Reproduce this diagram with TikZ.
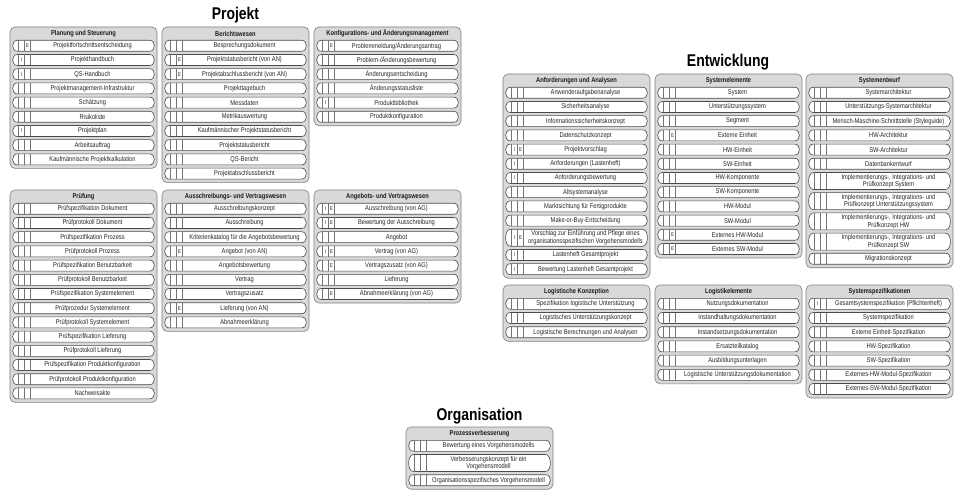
\documentclass[tikz,border=0pt]{standalone}
\usepackage{fontspec}
\setmainfont{Liberation Sans}[FakeStretch=0.82]
\pgfdeclarelayer{bg}
\pgfsetlayers{bg,main}
\tikzset{
  panelbox/.style={fill=black!15, draw=black!50, line width=0.6pt, rounded corners=5pt},
  itembox/.style={fill=white, draw=black!70, line width=0.6pt},
  sepline/.style={draw=black!55, line width=0.4pt},
  itemtext/.style={font=\fontsize{7}{7.6}\selectfont, text=black!85, align=center, inner sep=0pt},
  flagtext/.style={font=\fontsize{5.5}{6}\selectfont, text=black!85, inner sep=0pt},
  headtext/.style={font=\fontsize{7}{8}\selectfont\bfseries, text=black!90, inner sep=0pt},
  titletext/.style={font=\fontsize{17}{20}\selectfont\bfseries, inner sep=0pt, anchor=base},
}
\newcommand\DrawPanel[5]{%
  \pgfmathsetmacro\pL{#2}%
  \pgfmathsetmacro\pT{#3}%
  \pgfmathsetmacro\tmpv{#3+13.3}\xdef\cury{\tmpv}%
  \node[headtext] (#1-head) at (\pL+73.5,\pT+6.6) {#4};
  \foreach \vI/\vE/\vT/\vH [count=\n] in {#5} {%
    \pgfmathsetmacro\yT{\cury}%
    \pgfmathsetmacro\yB{\cury+11+6*(\vH-1)}%
    \pgfmathsetmacro\yM{(\yT+\yB)/2}%
    \pgfmathsetmacro\xL{\pL+2.5}%
    \pgfmathsetmacro\xR{\pL+144.5}%
    \pgfmathsetmacro\xM{(\xL+18+\xR)/2}%
    \draw[itembox] (\xL+5,\yT) -- (\xR-5,\yT)
      .. controls (\xR+1.5,\yT) and (\xR+1.5,\yB) .. (\xR-5,\yB)
      -- (\xL+5,\yB)
      .. controls (\xL-1.5,\yB) and (\xL-1.5,\yT) .. (\xL+5,\yT) -- cycle;
    \draw[sepline] (\xL+6,\yT) -- (\xL+6,\yB);
    \draw[sepline] (\xL+12,\yT) -- (\xL+12,\yB);
    \draw[sepline] (\xL+18,\yT) -- (\xL+18,\yB);
    \if\vI-\else\node[flagtext] (#1-\n-i) at (\xL+9,\yM) {\vI};\fi
    \if\vE-\else\node[flagtext] (#1-\n-e) at (\xL+15,\yM) {\vE};\fi
    \node[itemtext] (#1-\n) at (\xM,\yM) {\vT};
    \pgfmathsetmacro\tmpv{\yB+3.2}\xdef\cury{\tmpv}%
  }%
  \pgfmathsetmacro\pB{\cury-3.2+3.5}%
  \begin{pgfonlayer}{bg}
    \draw[panelbox] (\pL,\pT) rectangle (\pL+147,\pB);
  \end{pgfonlayer}
}
\begin{document}
\begin{tikzpicture}[x=1pt,y=-1pt]
\useasboundingbox (0,0) rectangle (956,497);
\begin{pgfonlayer}{bg}
\fill[white] (0,0) rectangle (956,497);
\end{pgfonlayer}

\node[titletext] (t-projekt) at (235.5,20) {Projekt};
\node[titletext] (t-entw) at (728,67) {Entwicklung};
\node[titletext] (t-org) at (479.5,420) {Organisation};

\DrawPanel{pl}{10}{27}{Planung und Steuerung}{
 -/E/Projektfortschrittsentscheidung/1,
 I/-/Projekthandbuch/1,
 I/-/QS-Handbuch/1,
 -/-/Projektmanagement-Infrastruktur/1,
 -/-/Schätzung/1,
 -/-/Risikoliste/1,
 I/-/Projektplan/1,
 -/-/Arbeitsauftrag/1,
 -/-/Kaufmännische Projektkalkulation/1}

\DrawPanel{bw}{162}{27}{Berichtswesen}{
 -/-/Besprechungsdokument/1,
 -/E/Projektstatusbericht (von AN)/1,
 -/E/Projektabschlussbericht (von AN)/1,
 -/-/Projekttagebuch/1,
 -/-/Messdaten/1,
 -/-/Metrikauswertung/1,
 -/-/Kaufmännischer Projektstatusbericht/1,
 -/-/Projektstatusbericht/1,
 -/-/QS-Bericht/1,
 -/-/Projektabschlussbericht/1}

\DrawPanel{ka}{314}{27}{Konfigurations- und Änderungsmanagement}{
 -/E/{Problemmeldung/Änderungsantrag}/1,
 -/-/{Problem-/Änderungsbewertung}/1,
 -/-/Änderungsentscheidung/1,
 -/-/Änderungsstatusliste/1,
 I/-/Produktbibliothek/1,
 -/-/Produktkonfiguration/1}

\DrawPanel{pr}{10}{190}{Prüfung}{
 -/-/Prüfspezifikation Dokument/1,
 -/-/Prüfprotokoll Dokument/1,
 -/-/Prüfspezifikation Prozess/1,
 -/-/Prüfprotokoll Prozess/1,
 -/-/Prüfspezifikation Benutzbarkeit/1,
 -/-/Prüfprotokoll Benutzbarkeit/1,
 -/-/Prüfspezifikation Systemelement/1,
 -/-/Prüfprozedur Systemelement/1,
 -/-/Prüfprotokoll Systemelement/1,
 -/-/Prüfspezifikation Lieferung/1,
 -/-/Prüfprotokoll Lieferung/1,
 -/-/Prüfspezifikation Produktkonfiguration/1,
 -/-/Prüfprotokoll Produktkonfiguration/1,
 -/-/Nachweisakte/1}

\DrawPanel{av}{162}{190}{Ausschreibungs- und Vertragswesen}{
 -/-/Ausschreibungskonzept/1,
 -/-/Ausschreibung/1,
 -/-/Kriterienkatalog für die Angebotsbewertung/1,
 -/E/Angebot (von AN)/1,
 -/-/Angebotsbewertung/1,
 -/-/Vertrag/1,
 -/-/Vertragszusatz/1,
 -/E/Lieferung (von AN)/1,
 -/-/Abnahmeerklärung/1}

\DrawPanel{ag}{314}{190}{Angebots- und Vertragswesen}{
 I/E/Ausschreibung (von AG)/1,
 I/E/Bewertung der Ausschreibung/1,
 -/-/Angebot/1,
 I/E/Vertrag (von AG)/1,
 -/E/Vertragszusatz (von AG)/1,
 -/-/Lieferung/1,
 -/E/Abnahmeerklärung (von AG)/1}

\DrawPanel{aa}{503}{74}{Anforderungen und Analysen}{
 -/-/Anwenderaufgabenanalyse/1,
 -/-/Sicherheitsanalyse/1,
 -/-/Informationssicherheitskonzept/1,
 -/-/Datenschutzkonzept/1,
 I/E/Projektvorschlag/1,
 I/-/Anforderungen (Lastenheft)/1,
 I/-/Anforderungsbewertung/1,
 -/-/Altsystemanalyse/1,
 -/-/Marktsichtung für Fertigprodukte/1,
 -/-/Make-or-Buy-Entscheidung/1,
 I/E/{Vorschlag zur Einführung und Pflege eines\\organisationsspezifischen Vorgehensmodells}/2,
 I/-/Lastenheft Gesamtprojekt/1,
 I/-/Bewertung Lastenheft Gesamtprojekt/1}

\DrawPanel{se}{655}{74}{Systemelemente}{
 -/-/System/1,
 -/-/Unterstützungssystem/1,
 -/-/Segment/1,
 -/E/Externe Einheit/1,
 -/-/HW-Einheit/1,
 -/-/SW-Einheit/1,
 -/-/HW-Komponente/1,
 -/-/SW-Komponente/1,
 -/-/HW-Modul/1,
 -/-/SW-Modul/1,
 -/E/Externes HW-Modul/1,
 -/E/Externes SW-Modul/1}

\DrawPanel{sw}{806}{74}{Systementwurf}{
 -/-/Systemarchitektur/1,
 -/-/Unterstützungs-Systemarchitektur/1,
 -/-/Mensch-Maschine-Schnittstelle (Styleguide)/1,
 -/-/HW-Architektur/1,
 -/-/SW-Architektur/1,
 -/-/Datenbankentwurf/1,
 -/-/{Implementierungs-, Integrations- und\\Prüfkonzept System}/2,
 -/-/{Implementierungs-, Integrations- und\\Prüfkonzept Unterstützungssystem}/2,
 -/-/{Implementierungs-, Integrations- und\\Prüfkonzept HW}/2,
 -/-/{Implementierungs-, Integrations- und\\Prüfkonzept SW}/2,
 -/-/Migrationskonzept/1}

\DrawPanel{lk}{503}{285}{Logistische Konzeption}{
 -/-/Spezifikation logistische Unterstützung/1,
 -/-/Logistisches Unterstützungskonzept/1,
 -/-/Logistische Berechnungen und Analysen/1}

\DrawPanel{le}{655}{285}{Logistikelemente}{
 -/-/Nutzungsdokumentation/1,
 -/-/Instandhaltungsdokumentation/1,
 -/-/Instandsetzungsdokumentation/1,
 -/-/Ersatzteilkatalog/1,
 -/-/Ausbildungsunterlagen/1,
 -/-/Logistische Unterstützungsdokumentation/1}

\DrawPanel{ss}{806}{285}{Systemspezifikationen}{
 I/-/Gesamtsystemspezifikation (Pflichtenheft)/1,
 -/-/Systemspezifikation/1,
 -/-/Externe Einheit-Spezifikation/1,
 -/-/HW-Spezifikation/1,
 -/-/SW-Spezifikation/1,
 -/-/Externes-HW-Modul-Spezifikation/1,
 -/-/Externes-SW-Modul-Spezifikation/1}

\DrawPanel{pv}{406}{427}{Prozessverbesserung}{
 -/-/Bewertung eines Vorgehensmodells/1,
 -/-/{Verbesserungskonzept für ein\\Vorgehensmodell}/2,
 -/-/Organisationsspezifisches Vorgehensmodell/1}
\end{tikzpicture}
\end{document}
